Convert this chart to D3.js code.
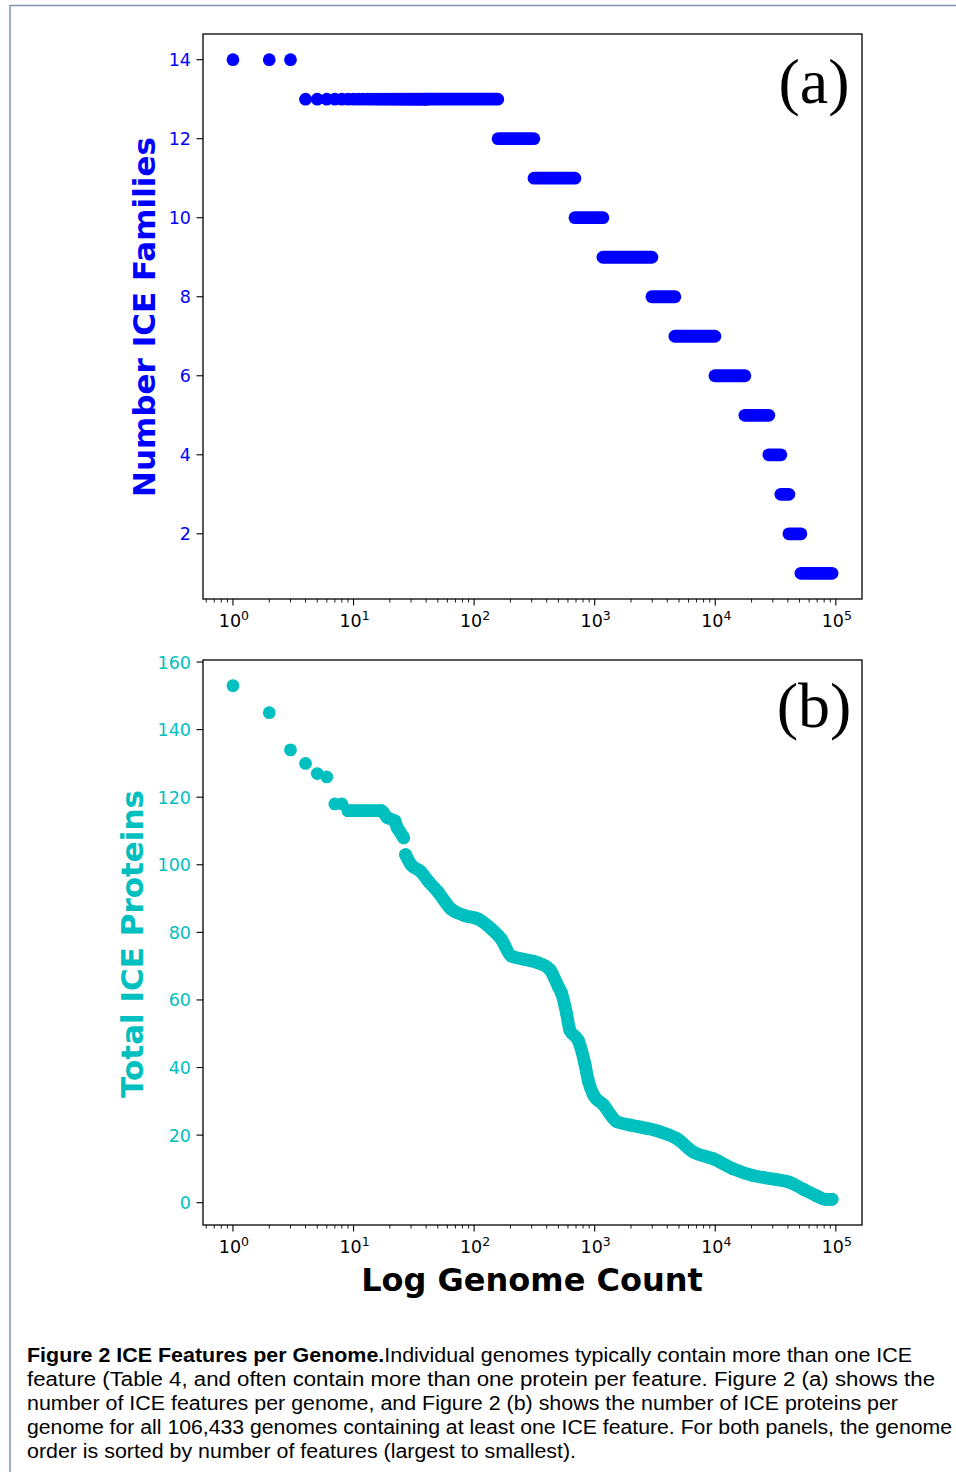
<!DOCTYPE html>
<html>
<head>
<meta charset="utf-8">
<script src="https://cdn.jsdelivr.net/npm/d3@7"></script>
<style>
html,body{margin:0;padding:0;background:#fff;}
svg{display:block;}
</style>
</head>
<body>
<svg id="chart" width="956" height="1472"></svg>
<script>
// ---------------- DATA ----------------
// Panel (a): number of ICE families per genome, stored as runs over genome rank
const famValues    = [14, 13, 12, 11, 10, 9, 8, 7, 6, 5, 4, 3, 2, 1];
const famStartRank = [1, 4, 158, 314, 686, 1171, 2981, 4625, 9931, 17601, 27801, 35001, 40801, 51301];
const famEndRank   = [3, 157, 313, 685, 1170, 2980, 4624, 9930, 17600, 27800, 35000, 40800, 51300, 93000];

// Panel (b): total ICE proteins per genome (rank, value)
const protSingleRanks  = [1, 2, 3, 4, 5, 6, 7, 8];
const protSingleValues = [153, 145, 134, 130, 127, 126, 118, 118];
const protSegARanks  = [9, 17, 19, 22, 23, 24, 26];
const protSegAValues = [116, 116, 114, 113, 111, 110, 108];
const protSegBRanks  = [27, 30, 36, 42, 50, 64, 83, 107, 139, 168, 203, 262, 339, 424, 498, 531, 584, 623, 731, 830, 886, 974, 1179, 1522, 1963, 2700, 3480, 4786, 6573, 9630, 14110, 20670, 30290, 41660, 53700, 69350, 82000, 93000];
const protSegBValues = [103, 100, 98, 95, 92, 87, 85, 84, 81, 78, 73, 72, 71, 69, 64, 62, 56, 51, 48, 41, 36, 32, 29, 24, 23, 22, 21, 19, 15, 13, 10, 8, 7, 6, 4, 2, 1, 1];

const famTicks  = [2, 4, 6, 8, 10, 12, 14];
const protTicks = [0, 20, 40, 60, 80, 100, 120, 140, 160];
const xTickExps = [0, 1, 2, 3, 4, 5];

const captionBold = "Figure 2  ICE Features per Genome.";
const captionLines = [
  "Individual genomes typically contain more than one ICE",
  "feature (Table 4, and often contain more than one protein per feature. Figure 2 (a) shows the",
  "number of ICE features per genome, and Figure 2 (b) shows the number of ICE proteins per",
  "genome for all 106,433 genomes containing at least one ICE feature. For both panels, the genome",
  "order is sorted by number of features (largest to smallest)."
];

// ---------------- LAYOUT ----------------
const svg = d3.select("#chart");
const W = 956, H = 1472;
const blue = "#0000ff", cyan = "#00bfbf";
const R = 6.4;

// frame
svg.append("line").attr("x1", 10).attr("y1", 5.5).attr("x2", 956).attr("y2", 5.5)
  .attr("stroke", "#7f95b2").attr("stroke-width", 1.5);
svg.append("line").attr("x1", 10).attr("y1", 5).attr("x2", 10).attr("y2", H)
  .attr("stroke", "#7f95b2").attr("stroke-width", 1.5);

function padLog(lo, hi) {
  const a = Math.log10(lo), b = Math.log10(hi), m = (b - a) * 0.05;
  return [Math.pow(10, a - m), Math.pow(10, b + m)];
}
function padLin(lo, hi) { const m = (hi - lo) * 0.05; return [lo - m, hi + m]; }

const allRanks = famStartRank.concat(famEndRank, protSingleRanks, protSegBRanks);
const xDomain = padLog(d3.min(allRanks), d3.max(allRanks));

function drawPanel(box, yDomain, yTicks, color) {
  const x = d3.scaleLog().domain(xDomain).range([box.left, box.right]);
  const y = d3.scaleLinear().domain(yDomain).range([box.bottom, box.top]);
  const g = svg.append("g");
  // x ticks
  const minor = [];
  for (let e = -1; e <= 5; e++) for (let k = 2; k <= 9; k++) {
    const v = k * Math.pow(10, e);
    if (v >= xDomain[0] && v <= xDomain[1]) minor.push(v);
  }
  g.selectAll(".mn").data(minor).enter().append("line")
    .attr("x1", d => x(d)).attr("x2", d => x(d))
    .attr("y1", box.bottom).attr("y2", box.bottom + 3.5)
    .attr("stroke", "#000").attr("stroke-width", 0.9);
  g.selectAll(".mj").data(xTickExps).enter().append("line")
    .attr("x1", d => x(Math.pow(10, d))).attr("x2", d => x(Math.pow(10, d)))
    .attr("y1", box.bottom).attr("y2", box.bottom + 6.5)
    .attr("stroke", "#000").attr("stroke-width", 1.1);
  const xl = g.selectAll(".xl").data(xTickExps).enter().append("text")
    .attr("x", d => x(Math.pow(10, d)) + 1).attr("y", box.bottom + 28)
    .attr("text-anchor", "middle")
    .attr("font-family", "DejaVu Sans").attr("font-size", 17.5).attr("fill", "#000");
  xl.append("tspan").text("10");
  xl.append("tspan").attr("dy", -7).attr("font-size", 12.5).text(d => d);
  // y ticks
  g.selectAll(".yt").data(yTicks).enter().append("line")
    .attr("x1", box.left - 6.5).attr("x2", box.left)
    .attr("y1", d => y(d)).attr("y2", d => y(d))
    .attr("stroke", "#000").attr("stroke-width", 1.1);
  g.selectAll(".yl").data(yTicks).enter().append("text")
    .attr("x", box.left - 12).attr("y", d => y(d) + 6.5)
    .attr("text-anchor", "end")
    .attr("font-family", "DejaVu Sans").attr("font-size", 17.5).attr("fill", color)
    .text(d => d);
  return {x, y, g};
}

// ---------------- PANEL (a) ----------------
const boxA = {left: 203, right: 862, top: 34, bottom: 599};
const pa = drawPanel(boxA, padLin(d3.min(famValues), d3.max(famValues)), famTicks, blue);
const runs = famValues.map((v, i) => ({v, s: famStartRank[i], e: famEndRank[i]}));
const dotCut = 40;
const capsules = runs.filter(r => r.e > dotCut);
pa.g.selectAll(".cap").data(capsules).enter().append("line")
  .attr("x1", d => pa.x(Math.max(d.s, dotCut))).attr("x2", d => pa.x(d.e))
  .attr("y1", d => pa.y(d.v)).attr("y2", d => pa.y(d.v))
  .attr("stroke", blue).attr("stroke-width", 2 * R).attr("stroke-linecap", "round");
const famDots = [];
runs.forEach(r => { for (let k = r.s; k <= Math.min(r.e, dotCut); k++) famDots.push({k, v: r.v}); });
pa.g.selectAll(".fd").data(famDots).enter().append("circle")
  .attr("cx", d => pa.x(d.k)).attr("cy", d => pa.y(d.v)).attr("r", R).attr("fill", blue);
svg.append("rect").attr("x", boxA.left).attr("y", boxA.top)
  .attr("width", boxA.right - boxA.left).attr("height", boxA.bottom - boxA.top)
  .attr("fill", "none").attr("stroke", "#000").attr("stroke-width", 1.3);
svg.append("text").attr("x", 814).attr("y", 103).attr("text-anchor", "middle")
  .attr("font-family", "Liberation Serif").attr("font-size", 64).text("(a)");
svg.append("text")
  .attr("transform", "translate(155,317) rotate(-90)")
  .attr("text-anchor", "middle").attr("font-family", "DejaVu Sans").attr("font-weight", "bold")
  .attr("font-size", 31).attr("fill", blue).text("Number ICE Families");

// ---------------- PANEL (b) ----------------
const boxB = {left: 203, right: 862, top: 660, bottom: 1225};
const allProt = protSingleValues.concat(protSegAValues, protSegBValues);
const pb = drawPanel(boxB, padLin(d3.min(allProt), d3.max(allProt)), protTicks, cyan);
const segs = [
  protSegARanks.map((k, i) => ({k, v: protSegAValues[i]})),
  protSegBRanks.map((k, i) => ({k, v: protSegBValues[i]}))
];
const lineGen = d3.line().x(d => pb.x(d.k)).y(d => pb.y(d.v)).curve(d3.curveMonotoneX);
pb.g.selectAll(".seg").data(segs).enter().append("path")
  .attr("d", lineGen).attr("fill", "none").attr("stroke", cyan)
  .attr("stroke-width", 2 * R).attr("stroke-linecap", "round").attr("stroke-linejoin", "round");
const protDots = protSingleRanks.map((k, i) => ({k, v: protSingleValues[i]})).concat(segs[0], segs[1]);
pb.g.selectAll(".pd").data(protDots).enter().append("circle")
  .attr("cx", d => pb.x(d.k)).attr("cy", d => pb.y(d.v)).attr("r", R).attr("fill", cyan);
svg.append("rect").attr("x", boxB.left).attr("y", boxB.top)
  .attr("width", boxB.right - boxB.left).attr("height", boxB.bottom - boxB.top)
  .attr("fill", "none").attr("stroke", "#000").attr("stroke-width", 1.3);
svg.append("text").attr("x", 814).attr("y", 727).attr("text-anchor", "middle")
  .attr("font-family", "Liberation Serif").attr("font-size", 64).text("(b)");
svg.append("text")
  .attr("transform", "translate(143,944) rotate(-90)")
  .attr("text-anchor", "middle").attr("font-family", "DejaVu Sans").attr("font-weight", "bold")
  .attr("font-size", 31).attr("fill", cyan).text("Total ICE Proteins");
svg.append("text").attr("x", 532).attr("y", 1291).attr("text-anchor", "middle")
  .attr("font-family", "DejaVu Sans").attr("font-weight", "bold")
  .attr("font-size", 32).attr("fill", "#000").text("Log Genome Count");

// ---------------- CAPTION ----------------
const capEnds = [912, 935, 898, 952, 576];
const capBase = 1362, capStep = 24;
captionLines.forEach((line, i) => {
  const t = svg.append("text").attr("x", 27).attr("y", capBase + i * capStep)
    .attr("font-family", "Liberation Sans").attr("font-size", 19.5).attr("fill", "#000")
    .attr("textLength", capEnds[i] - 27).attr("lengthAdjust", "spacingAndGlyphs");
  if (i === 0) t.append("tspan").attr("font-weight", "bold").text(captionBold);
  t.append("tspan").text(line);
});
</script>
</body>
</html>
